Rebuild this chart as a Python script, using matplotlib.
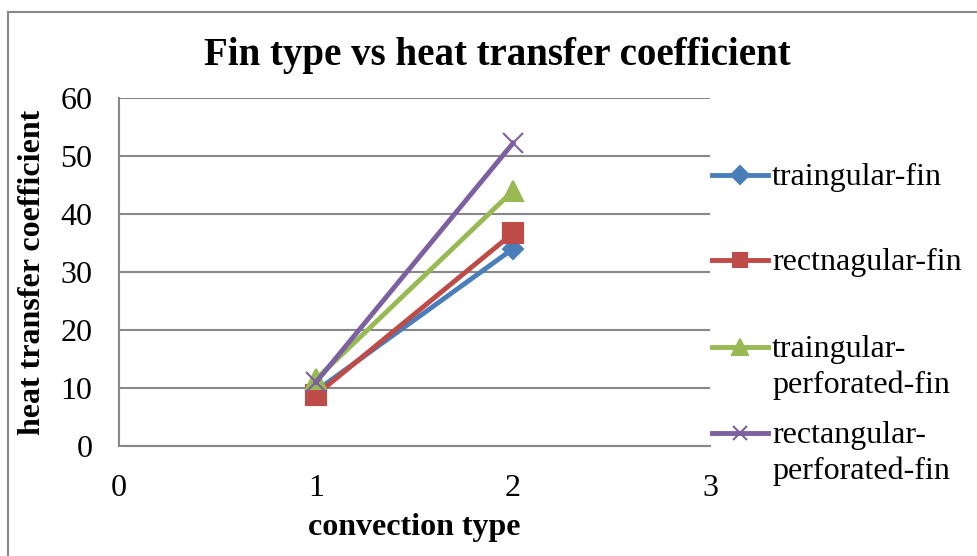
import matplotlib.pyplot as plt
from matplotlib.lines import Line2D

plt.rcParams['font.family'] = ['Liberation Serif', 'DejaVu Serif']

convection = [1, 2]
triangular = [9.5, 34.0]
rectangular = [8.8, 36.7]
tri_perf = [11.5, 44.0]
rect_perf = [11.0, 52.2]

labels = ['traingular-fin', 'rectnagular-fin', 'traingular-\nperforated-fin', 'rectangular-\nperforated-fin']
colors = ['#4a7ebb', '#be4b48', '#98b954', '#7d60a0']
markers = ['D', 's', '^', 'x']
msizes = [10, 14, 15, 15]
leg_msizes = [9, 10, 11, 10]

W, H = 977, 556
fig = plt.figure(figsize=(W / 100, H / 100), dpi=100)
ax = fig.add_axes([119/W, 1 - 446/H, (710-119)/W, (446-98)/H])

# chart border (only top and left edges are visible in the original)
fig.add_artist(Line2D([8/W, 8/W], [0, 1 - 12/H], color='#888888', lw=1.5))
fig.add_artist(Line2D([8/W, 1], [1 - 12/H, 1 - 12/H], color='#888888', lw=1.5))

series = [triangular, rectangular, tri_perf, rect_perf]
for vals, c, m, ms in zip(series, colors, markers, msizes):
    ax.plot(convection, vals, color=c, linewidth=3.5, marker=m, markersize=ms,
            markeredgewidth=1.5, clip_on=False)

ax.set_xlim(0, 3)
ax.set_ylim(0, 60)
ax.set_xticks([0, 1, 2, 3])
ax.set_yticks(range(0, 61, 10))
ax.tick_params(labelsize=23, length=0)
ax.tick_params(axis='x', pad=20)
ax.tick_params(axis='y', pad=19)
ax.grid(axis='y', color='#888888', linewidth=1.5)
ax.set_axisbelow(True)
for s in ['top', 'right']:
    ax.spines[s].set_visible(False)
for s in ['left', 'bottom']:
    ax.spines[s].set_color('#888888')
    ax.spines[s].set_linewidth(1.5)

ax.set_xlabel('convection type', fontsize=23, fontweight='bold', labelpad=7)
fig.text(33/W, 1 - 272/H, 'heat transfer coefficient', fontsize=23, fontweight='bold',
         rotation=90, ha='center', va='center')
fig.text(497/W, 1 - 55/H, 'Fin type vs heat transfer coefficient', fontsize=28,
         fontweight='bold', ha='center', va='center')

# legend, handles aligned with the first text line as in the original
entry_y = [175, 260, 347, 433]
for lab, c, m, ms, y in zip(labels, colors, markers, leg_msizes, entry_y):
    yf = 1 - y / H
    fig.add_artist(Line2D([712/W, 768/W], [yf, yf], color=c, lw=3.5))
    fig.add_artist(Line2D([740/W], [yf], color=c, marker=m, markersize=ms,
                          markeredgewidth=1.5, linestyle='none'))
    fig.text(772/W, yf + 12/H, lab, fontsize=23, ha='left', va='top', linespacing=1.3)

fig.savefig('out.png', dpi=100)
